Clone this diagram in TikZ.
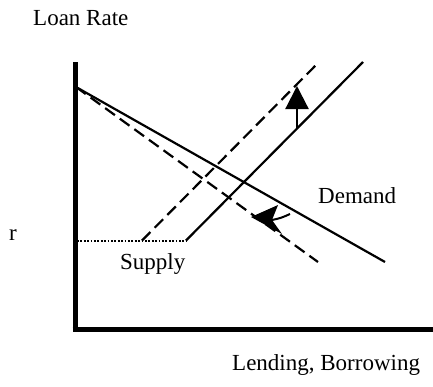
\documentclass[tikz,border=0pt]{standalone}
\usepackage{fontspec}
\setmainfont{Liberation Serif}
\usetikzlibrary{arrows.meta}
\begin{document}
\begin{tikzpicture}[x=1pt,y=-1pt,
  lbl/.style={anchor=base west,inner sep=0pt,font=\fontsize{23}{27}\selectfont},
  axis/.style={line width=5pt},
  curve/.style={line width=2.2pt},
  dcurve/.style={line width=2.2pt,dash pattern=on 12pt off 6pt},
  dotline/.style={line width=2pt,dash pattern=on 1.8pt off 1.6pt},
  shiftarrow/.style={line width=2.2pt,-{Triangle[length=23pt,width=23pt]}}]
\useasboundingbox (0,0) rectangle (433,386);
% labels
\node[lbl] (loan) at (33,25) {Loan Rate};
\node[lbl] (lend) at (232,370) {Lending, Borrowing};
\node[lbl] (r) at (9,240) {r};
\node[lbl] (sup) at (120,269) {Supply};
\node[lbl] (dem) at (318,203) {Demand};
% axes
\coordinate (o) at (75,329.5);
\coordinate (ytop) at (75,62);
\coordinate (xend) at (433,329.5);
\draw[axis] (ytop) -- (75,332);
\draw[axis] (72.5,329.5) -- (xend);
% demand curves
\coordinate (d0) at (76,87);
\coordinate (d1) at (385,262);
\coordinate (d2) at (318,262);
\draw[curve] (d0) -- (d1);
\draw[dcurve] (d0) -- (d2);
% supply curves
\coordinate (r0) at (77,240.5);
\coordinate (s0) at (186,240.5);
\coordinate (s1) at (363,62);
\coordinate (t0) at (142,240.5);
\coordinate (t1) at (319,62);
\draw[dotline] (r0) -- (s0);
\draw[curve] (s0) -- (s1);
\draw[dcurve] (t0) -- (t1);
% shift arrows
\coordinate (ua) at (297,129);
\coordinate (ub) at (297,86);
\draw[shiftarrow] (ua) -- (ub);
\coordinate (la) at (251,217);
\fill (la) -- (278,205) -- (272,220) -- (282,234) -- cycle;
\draw[line width=2pt] (272,220) .. controls (281,218) .. (290,214);
\end{tikzpicture}
\end{document}
